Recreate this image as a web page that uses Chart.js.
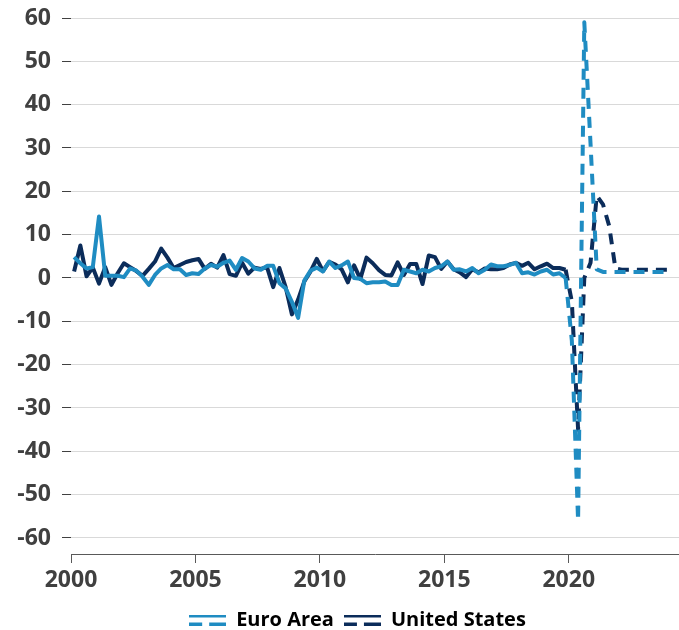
<!DOCTYPE html>
<html>
<head>
<meta charset="utf-8">
<script src="https://cdn.jsdelivr.net/npm/chart.js@4.4.1/dist/chart.umd.min.js"></script>
<style>
  html, body { margin: 0; padding: 0; background: #ffffff; }
  #wrap { width: 679px; height: 630px; position: relative; }
</style>
</head>
<body>
<div id="wrap"><canvas id="chart" width="679" height="630"></canvas></div>
<script>
// Quarterly real GDP growth, annualised, per cent (2000Q1 .. 2024Q1)
const firstYear = 2000;
const quarterCount = 97;
const quarters = [];
for (let i = 0; i < quarterCount; i++) {
  quarters.push((firstYear + Math.floor(i / 4)) + 'Q' + (i % 4 + 1));
}

const seriesNames = ['Euro Area', 'United States'];

const euroArea = [
  4.8, 3.4, 2.2, 2.5,     14.2, 0.5, 0.5, 0.5,
  0.2, 2.2, 1.7, 0.3,     -1.6, 0.7, 2.2, 3.0,
  2.0, 2.0, 0.7, 1.1,     0.9, 2.2, 3.0, 2.6,
  3.5, 4.0, 1.9, 4.6,     3.8, 2.2, 1.9, 2.8,
  2.8, -1.2, -2.4, -5.5,  -9.2, -0.6, 1.7, 2.4,
  1.5, 3.8, 2.3, 2.9,     3.8, 0.0, -0.2, -1.2,
  -1.0, -1.0, -0.8, -1.6, -1.6, 1.9, 1.5, 1.1,
  1.9, 1.5, 2.3, 2.7,     3.8, 1.9, 2.0, 1.5,
  2.3, 1.1, 1.9, 3.1,     2.7, 2.7, 3.0, 3.5,
  1.1, 1.3, 0.8, 1.5,     1.9, 0.8, 1.1, 0.0,
  -14.5, -56.0, 59.0, 31.0, 2.0, 1.4, 1.4, 1.4,
  1.4, 1.4, 1.4, 1.4,     1.4, 1.4, 1.4, 1.4,
  1.4
];

const unitedStates = [
  1.5, 7.5, 0.4, 2.4,     -1.3, 2.5, -1.6, 1.1,
  3.4, 2.5, 1.6, 0.5,     2.1, 3.8, 6.8, 4.7,
  2.3, 3.0, 3.7, 4.1,     4.4, 2.1, 3.3, 2.4,
  5.3, 0.9, 0.5, 3.5,     1.0, 2.4, 2.1, 2.5,
  -2.1, 2.3, -2.1, -8.4,  -5.0, -0.8, 1.5, 4.4,
  1.6, 3.7, 3.1, 2.0,     -1.0, 2.9, -0.2, 4.7,
  3.4, 1.8, 0.7, 0.6,     3.6, 0.7, 3.2, 3.2,
  -1.4, 5.2, 4.8, 2.1,    3.8, 2.0, 1.3, 0.2,
  2.0, 1.3, 2.2, 2.0,     2.0, 2.3, 3.1, 3.5,
  2.8, 3.5, 2.0, 2.7,     3.3, 2.3, 2.3, 1.9,
  -5.5, -35.0, 0.0, 3.5,  19.0, 17.0, 12.0, 2.2,
  1.9, 1.9, 1.9, 1.9,     1.9, 1.9, 1.9, 1.9,
  1.9
];

const yTickValues = [-60, -50, -40, -30, -20, -10, 0, 10, 20, 30, 40, 50, 60];
const xTickValues = [2000, 2005, 2010, 2015, 2020];
const dashedFrom = '2019Q4';

// position of a quarter on the year axis (middle of the quarter)
function quarterPos(label) {
  const year = parseInt(label.slice(0, 4), 10);
  const q = parseInt(label.slice(5), 10);
  return year + (q - 1) / 4 + 0.125;
}

const colours = ['#1f8cc2', '#0b2c5a'];
const dashPattern = [11, 8];
const dashStart = quarters.indexOf(dashedFrom);

function toPoints(values) {
  return values.map((v, i) => ({ x: quarterPos(quarters[i]), y: v }));
}

// legend key: solid bar above a dashed bar
function legendKey(colour) {
  const c = document.createElement('canvas');
  c.width = 37; c.height = 11;
  const g = c.getContext('2d');
  g.fillStyle = colour;
  g.fillRect(0, 0, 37, 3);
  g.fillRect(0, 8, 13, 3);
  g.fillRect(20, 8, 17, 3);
  return c;
}
const legendKeys = colours.map(legendKey);

Chart.defaults.font.family = "'Open Sans', 'DejaVu Sans', sans-serif";

// centre the legend under the plot area rather than the whole canvas
const legendNudge = {
  id: 'legendNudge',
  afterLayout(chart) {
    const lg = chart.legend;
    if (lg) {
      lg.top += 10; lg.bottom += 10;
      lg.left += 18; lg.right += 18;
    }
  }
};

const lineStyle = {
  borderWidth: 4,
  pointRadius: 0,
  tension: 0,
  borderJoinStyle: 'round',
  segment: { borderDash: ctx => ctx.p0DataIndex >= dashStart ? dashPattern : undefined }
};

new Chart(document.getElementById('chart'), {
  type: 'line',
  data: {
    datasets: [
      Object.assign({
        label: seriesNames[0],
        data: toPoints(euroArea),
        borderColor: colours[0],
        backgroundColor: colours[0]
      }, lineStyle),
      Object.assign({
        label: seriesNames[1],
        data: toPoints(unitedStates),
        borderColor: colours[1],
        backgroundColor: colours[1]
      }, lineStyle)
    ]
  },
  options: {
    responsive: false,
    animation: false,
    layout: { padding: { top: 18, left: 0, right: 0, bottom: 0 } },
    plugins: {
      tooltip: { enabled: false },
      legend: {
        position: 'bottom',
        align: 'center',
        labels: {
          usePointStyle: true,
          pointStyleWidth: 37,
          boxHeight: 11,
          padding: 10,
          color: '#000000',
          font: { size: 20, weight: 'bold' },
          generateLabels: chart => chart.data.datasets.map((d, i) => ({
            text: d.label,
            pointStyle: legendKeys[i],
            fillStyle: d.borderColor,
            strokeStyle: d.borderColor,
            lineWidth: 0,
            fontColor: '#000000',
            hidden: !chart.isDatasetVisible(i),
            datasetIndex: i
          }))
        }
      }
    },
    scales: {
      x: {
        type: 'linear',
        min: 2000,
        max: 2024.43,
        afterBuildTicks: s => { s.ticks = xTickValues.map(v => ({ value: v })); },
        afterFit: s => { s.height = 36; s.paddingLeft = 0; s.paddingRight = 0; },
        grid: { drawOnChartArea: false, drawTicks: true, tickLength: 9, tickColor: '#595959', lineWidth: 1 },
        border: { display: true, color: '#595959', width: 1 },
        ticks: {
          autoSkip: false,
          maxRotation: 0,
          padding: 4,
          color: '#404040',
          font: { size: 23, weight: 'bold' },
          callback: v => String(v)
        }
      },
      y: {
        min: -63.7,
        max: 60,
        afterBuildTicks: s => { s.ticks = yTickValues.map(v => ({ value: v })); },
        afterFit: s => { s.width = 71; s.paddingTop = 0; s.paddingBottom = 0; },
        grid: { color: '#d9d9d9', lineWidth: 1, drawTicks: true, tickLength: 9, tickColor: '#404040' },
        border: { display: false },
        ticks: {
          padding: 11,
          color: '#404040',
          font: { size: 23, weight: 'bold' },
          callback: v => String(v)
        }
      }
    }
  },
  plugins: [legendNudge]
});
</script>
</body>
</html>
